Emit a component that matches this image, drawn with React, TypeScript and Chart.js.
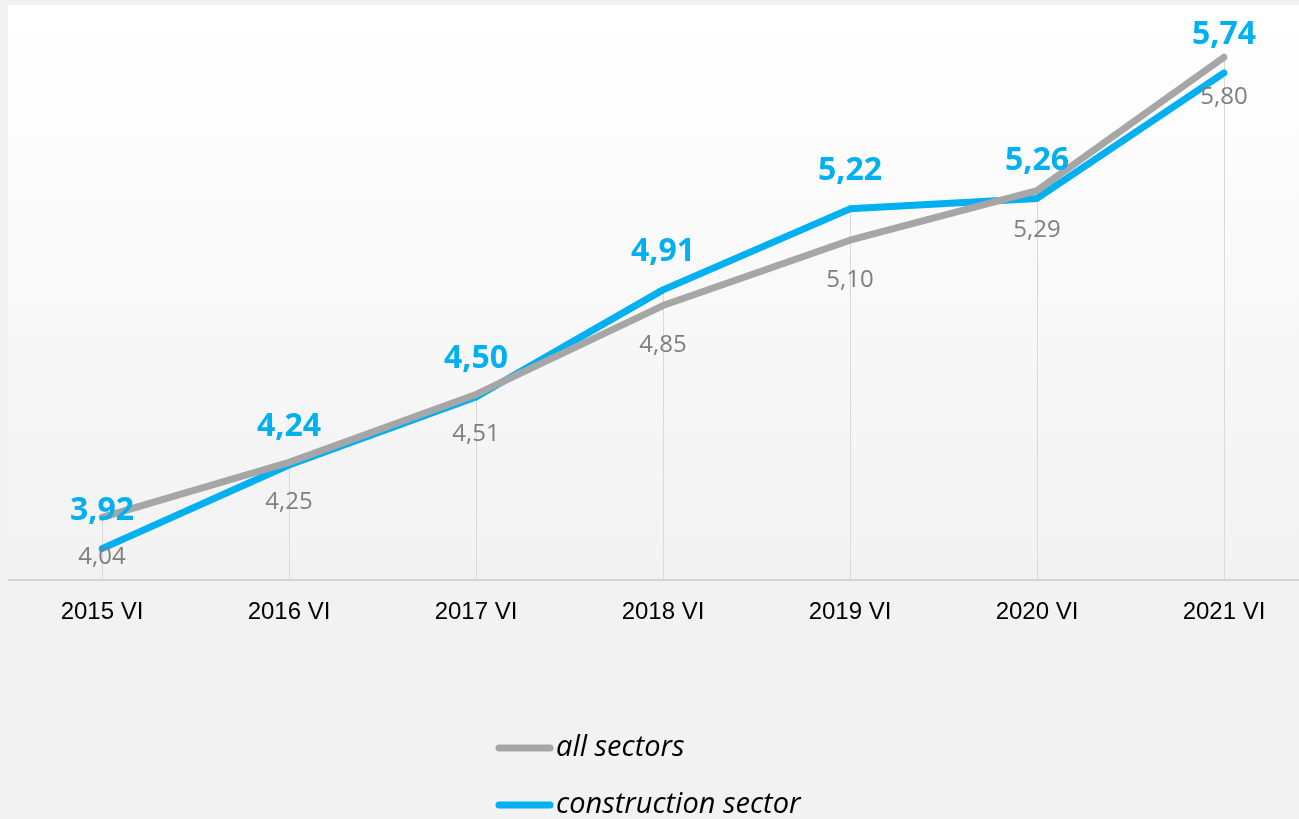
import React, { useEffect, useRef } from "react";
import { Chart, registerables } from "chart.js";

Chart.register(...registerables);

const categories = ["2015 VI", "2016 VI", "2017 VI", "2018 VI", "2019 VI", "2020 VI", "2021 VI"];
const allSectors = [4.04, 4.25, 4.51, 4.85, 5.1, 5.29, 5.8];
const constructionSector = [3.92, 4.24, 4.5, 4.91, 5.22, 5.26, 5.74];
const seriesNames = ["all sectors", "construction sector"];
const GRAY = "#a6a6a6";
const BLUE = "#00b0f0";

const fmt = (v: number) => v.toFixed(2).replace(".", ",");

const decorPlugin = {
  id: "decor",
  beforeDraw(chart: any) {
    const { ctx, chartArea, width } = chart;
    ctx.save();
    const g = ctx.createLinearGradient(0, chartArea.top, 0, chartArea.bottom);
    g.addColorStop(0, "#ffffff");
    g.addColorStop(1, "#f2f2f2");
    ctx.fillStyle = g;
    ctx.fillRect(8, chartArea.top, width - 8, chartArea.bottom - chartArea.top);
    ctx.restore();
  },
  beforeDatasetsDraw(chart: any) {
    const { ctx, chartArea, width } = chart;
    const m0 = chart.getDatasetMeta(0).data;
    const m1 = chart.getDatasetMeta(1).data;
    ctx.save();
    ctx.strokeStyle = "#d9d9d9";
    ctx.lineWidth = 1;
    for (let i = 0; i < m0.length; i++) {
      const x = Math.round(m0[i].x) + 0.5;
      const top = Math.min(m0[i].y, m1[i].y);
      ctx.beginPath();
      ctx.moveTo(x, top);
      ctx.lineTo(x, chartArea.bottom);
      ctx.stroke();
    }
    ctx.strokeStyle = "#d4d4d4";
    ctx.lineWidth = 2;
    ctx.beginPath();
    ctx.moveTo(8, chartArea.bottom);
    ctx.lineTo(width, chartArea.bottom);
    ctx.stroke();
    ctx.restore();
  },
  afterDatasetsDraw(chart: any) {
    const { ctx } = chart;
    ctx.save();
    ctx.textAlign = "center";
    ctx.textBaseline = "middle";
    ctx.font = "24px 'Open Sans', sans-serif";
    ctx.fillStyle = "#7f7f7f";
    chart.getDatasetMeta(0).data.forEach((p: any, i: number) => {
      ctx.fillText(fmt(allSectors[i]), p.x, p.y + 40);
    });
    ctx.font = "bold 32px 'Open Sans', sans-serif";
    ctx.fillStyle = BLUE;
    chart.getDatasetMeta(1).data.forEach((p: any, i: number) => {
      ctx.fillText(fmt(constructionSector[i]), p.x, p.y - 38);
    });
    ctx.restore();
  },
  afterDraw(chart: any) {
    const { ctx } = chart;
    const rows = [
      { y: 748, color: GRAY, text: seriesNames[0] },
      { y: 805, color: BLUE, text: seriesNames[1] },
    ];
    ctx.save();
    ctx.lineCap = "round";
    ctx.lineWidth = 7;
    ctx.font = "italic 29px 'Open Sans', sans-serif";
    ctx.textAlign = "left";
    ctx.textBaseline = "middle";
    rows.forEach((r) => {
      ctx.strokeStyle = r.color;
      ctx.beginPath();
      ctx.moveTo(499, r.y);
      ctx.lineTo(550, r.y);
      ctx.stroke();
      ctx.fillStyle = "#000000";
      ctx.fillText(r.text, 556, r.y);
    });
    ctx.restore();
  },
};

export default function App() {
  const ref = useRef<HTMLCanvasElement>(null);
  useEffect(() => {
    if (!ref.current) return;
    const chart = new Chart(ref.current, {
      type: "line",
      data: {
        labels: categories,
        datasets: [
          {
            label: seriesNames[0],
            data: allSectors,
            borderColor: GRAY,
            backgroundColor: GRAY,
            borderWidth: 7,
            borderCapStyle: "round",
            borderJoinStyle: "round",
            pointRadius: 0,
            tension: 0,
          },
          {
            label: seriesNames[1],
            data: constructionSector,
            borderColor: BLUE,
            backgroundColor: BLUE,
            borderWidth: 7,
            borderCapStyle: "round",
            borderJoinStyle: "round",
            pointRadius: 0,
            tension: 0,
          },
        ],
      },
      options: {
        animation: false,
        responsive: true,
        maintainAspectRatio: false,
        layout: { padding: { top: 5, left: 102, right: 75, bottom: 0 } },
        plugins: { legend: { display: false }, tooltip: { enabled: false } },
        scales: {
          x: {
            offset: false,
            grid: { display: false },
            border: { display: false },
            ticks: {
              color: "#000000",
              padding: 10,
              font: { family: "'Liberation Sans', Arial, sans-serif", size: 24 },
              maxRotation: 0,
              autoSkip: false,
            },
            afterFit: (scale: any) => {
              scale.height = 239;
            },
          },
          y: {
            display: false,
            min: 3.8,
            max: 6.0,
          },
        },
      },
      plugins: [decorPlugin],
    });
    return () => chart.destroy();
  }, []);
  return (
    <div
      style={{
        position: "fixed",
        left: 0,
        top: 0,
        width: 1299,
        height: 819,
        background: "#f2f2f2",
      }}
    >
      <canvas ref={ref} />
    </div>
  );
}
